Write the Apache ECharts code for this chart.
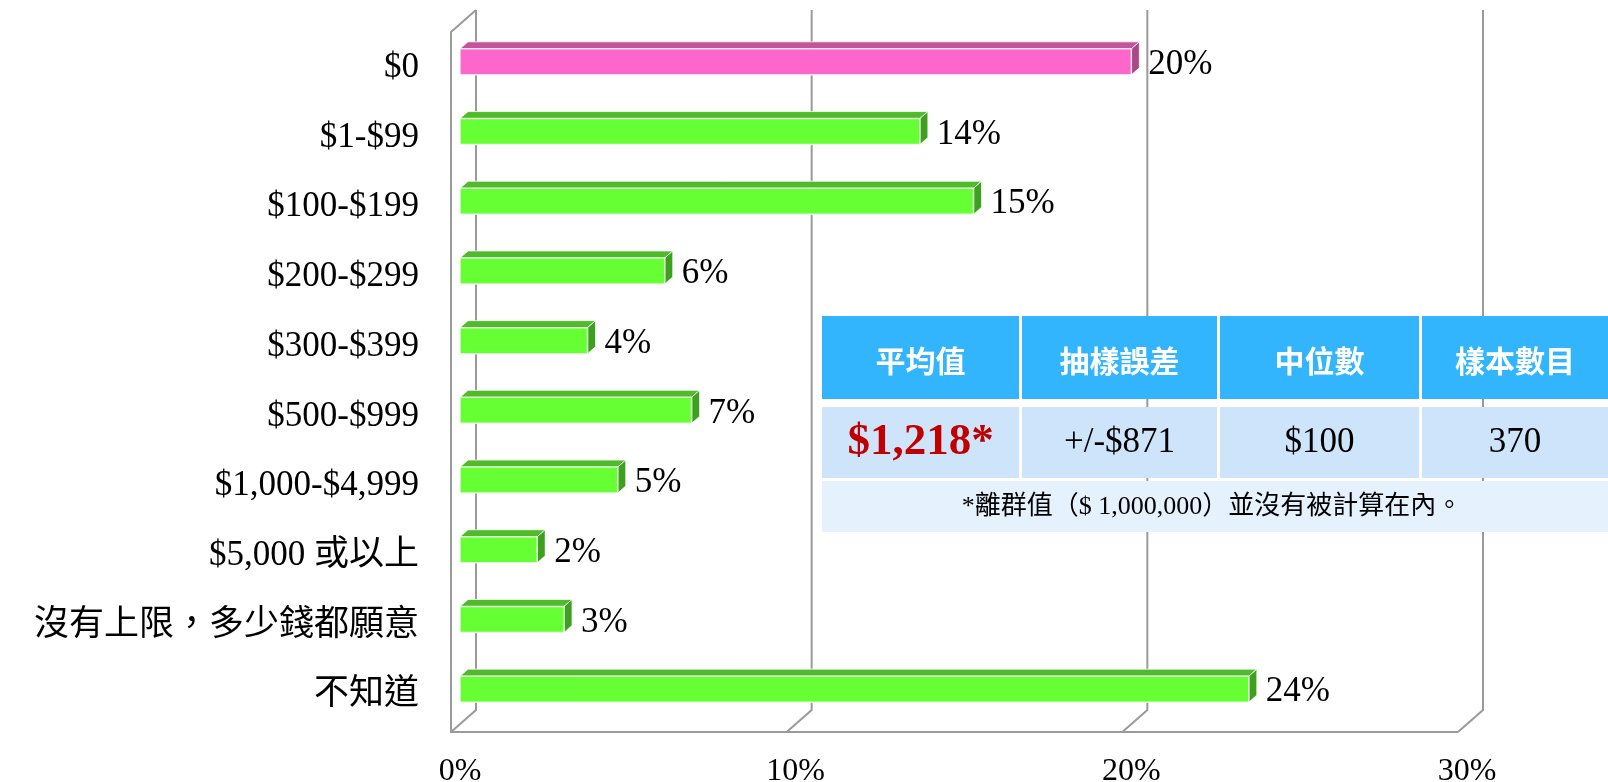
<!DOCTYPE html>
<html>
<head>
<meta charset="utf-8">
<script src="https://cdn.jsdelivr.net/npm/echarts@6/dist/echarts.min.js"></script>
<style>
  html, body { margin: 0; padding: 0; background: #fff; }
  #chart { width: 1608px; height: 782px; }
</style>
</head>
<body>
<div id="chart"></div>
<script>
const categories = [
  "$0", "$1-$99", "$100-$199", "$200-$299", "$300-$399",
  "$500-$999", "$1,000-$4,999", "$5,000 或以上", "沒有上限，多少錢都願意", "不知道"
];
const shares = [20.0, 13.7, 15.3, 6.1, 3.8, 6.9, 4.7, 2.3, 3.1, 23.5];
const highlightIndex = 0;
const xTicks = [0, 10, 20, 30];

const tableHeaders = ["平均值", "抽樣誤差", "中位數", "樣本數目"];
const tableValues = ["$1,218*", "+/-$871", "$100", "370"];
const tableNote = "*離群值（$ 1,000,000）並沒有被計算在內。";

const SERIF = '"Liberation Serif", "Times New Roman", "Noto Sans CJK TC", serif';
const CJK = '"Noto Sans CJK TC", "Liberation Serif", sans-serif';

// depth offsets of the 3D box relative to the bar plane
const BACK = [16, -14];
const FRONT = [-9, 8];
const BAR_D = [8, -7];
const BAR_H = 26;
const WALL_EXTRA = 3; // walls reach a bit above the first band

const chart = echarts.init(document.getElementById("chart"));

function wallItem(params, api) {
  const cs = params.coordSys;
  const top = cs.y - WALL_EXTRA, bottom = cs.y + cs.height;
  const x = api.coord([api.value(0), 0])[0];
  const lineStyle = { stroke: "#9a9a9a", lineWidth: 2, fill: null };
  const children = [{
    type: "polyline",
    shape: { points: [[x + BACK[0], top + BACK[1]], [x + BACK[0], bottom + BACK[1]], [x + FRONT[0], bottom + FRONT[1]]] },
    style: lineStyle
  }];
  if (params.dataIndex === 0) {
    const xEnd = api.coord([xTicks[xTicks.length - 1], 0])[0];
    children.push({
      type: "polyline",
      shape: { points: [[x + BACK[0], top + BACK[1]], [x + FRONT[0], top + FRONT[1]], [x + FRONT[0], bottom + FRONT[1]], [xEnd + FRONT[0], bottom + FRONT[1]]] },
      style: lineStyle
    });
  }
  return { type: "group", children };
}

function barItem(params, api) {
  const idx = api.value(1);
  const end = api.coord([api.value(0), idx]);
  const start = api.coord([0, idx]);
  const x0 = start[0], x1 = end[0];
  const y0 = end[1] - BAR_H / 2, y1 = end[1] + BAR_H / 2;
  const pink = idx === highlightIndex;
  const face = pink ? "#ff66cc" : "#66ff33";
  const topC = pink ? "#c2559a" : "#4fbb2b";
  const sideC = pink ? "#a84884" : "#3f9f20";
  const edge = "rgba(255,255,255,0.75)";
  return {
    type: "group",
    children: [
      {
        type: "polygon",
        shape: { points: [[x0, y0], [x0 + BAR_D[0], y0 + BAR_D[1]], [x1 + BAR_D[0], y0 + BAR_D[1]], [x1, y0]] },
        style: { fill: topC, stroke: edge, lineWidth: 1 }
      },
      {
        type: "polygon",
        shape: { points: [[x1, y0], [x1 + BAR_D[0], y0 + BAR_D[1]], [x1 + BAR_D[0], y1 + BAR_D[1]], [x1, y1]] },
        style: { fill: sideC, stroke: edge, lineWidth: 1 }
      },
      {
        type: "rect",
        shape: { x: x0, y: y0, width: x1 - x0, height: BAR_H },
        style: { fill: face, stroke: edge, lineWidth: 1.5 }
      },
      {
        type: "text",
        style: {
          text: Math.round(api.value(0)) + "%",
          x: x1 + 17, y: end[1] + 3,
          verticalAlign: "middle", align: "left",
          fontSize: 35, fontFamily: SERIF, fill: "#000"
        }
      }
    ]
  };
}

// summary table drawn on top of the plot
const TABLE_X = 822, TABLE_R = 1608;
const colEdges = [822, 1019, 1022, 1217, 1220, 1419, 1422, 1608];
const tableGraphics = [];
const rows = [
  { y: 316, h: 83, fill: "#33b5fe" },
  { y: 407, h: 71, fill: "#cde4fb" }
];
rows.forEach((row, r) => {
  for (let c = 0; c < 4; c++) {
    const x = colEdges[c * 2], w = colEdges[c * 2 + 1] - x;
    tableGraphics.push({
      type: "rect", z: 100,
      shape: { x, y: row.y, width: w, height: row.h },
      style: { fill: row.fill }
    });
    let style;
    if (r === 0) {
      style = { text: tableHeaders[c], fontSize: 30, fontWeight: "bold", fontFamily: CJK, fill: "#fff" };
    } else if (c === 0) {
      style = { text: tableValues[c], fontSize: 45, fontWeight: "bold", fontFamily: SERIF, fill: "#c00000" };
    } else {
      style = { text: tableValues[c], fontSize: 35, fontFamily: SERIF, fill: "#000" };
    }
    tableGraphics.push({
      type: "text", z: 101,
      x: x + w / 2, y: row.y + row.h / 2 + (r === 0 ? 3 : 0),
      style: Object.assign(style, { align: "center", verticalAlign: "middle" })
    });
  }
});
tableGraphics.push({
  type: "rect", z: 100,
  shape: { x: TABLE_X, y: 481, width: TABLE_R - TABLE_X, height: 51 },
  style: { fill: "#e5f1fd" }
});
tableGraphics.push({
  type: "text", z: 101,
  x: 1212, y: 507,
  style: { text: tableNote, fontSize: 26, fontFamily: SERIF, fill: "#000", align: "center", verticalAlign: "middle" }
});

chart.setOption({
  animation: false,
  grid: { left: 460, right: 141, top: 27, bottom: 58, containLabel: false, outerBoundsMode: "none" },
  xAxis: {
    type: "value",
    min: 0, max: 30, interval: 10,
    axisLine: { show: false },
    axisTick: { show: false },
    splitLine: { show: false },
    axisLabel: {
      formatter: "{value}%",
      margin: 32,
      fontSize: 32,
      fontFamily: SERIF,
      color: "#000"
    }
  },
  yAxis: {
    type: "category",
    inverse: true,
    data: categories,
    axisLine: { show: false },
    axisTick: { show: false },
    axisLabel: {
      margin: 41,
      formatter: (v) => "{l|" + v + "}",
      rich: {
        l: {
          fontSize: 35,
          fontFamily: SERIF,
          color: "#000",
          padding: [12, 0, 0, 0]
        }
      }
    }
  },
  series: [
    {
      type: "custom",
      name: "walls",
      renderItem: wallItem,
      data: xTicks.map((v) => [v, 0]),
      encode: { x: 0, y: 1 },
      clip: false,
      silent: true,
      z: 1
    },
    {
      type: "custom",
      name: "bars",
      renderItem: barItem,
      data: shares.map((v, i) => [v, i]),
      encode: { x: 0, y: 1 },
      clip: false,
      z: 2
    }
  ],
  graphic: tableGraphics
});
</script>
</body>
</html>
